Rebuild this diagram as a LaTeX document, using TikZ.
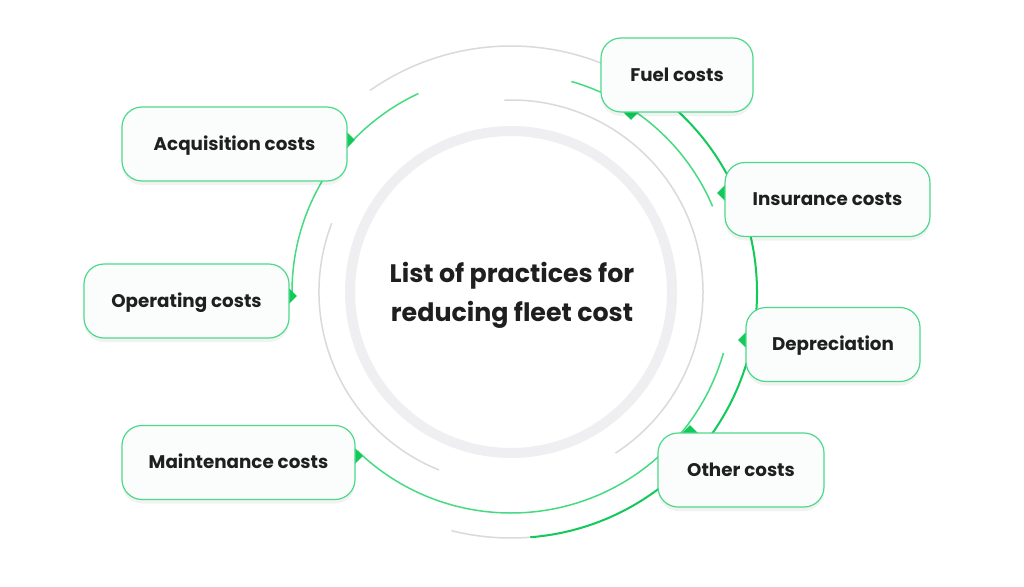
\documentclass[tikz,border=0pt]{standalone}
\usepackage{fontspec}
\setmainfont{Poppins}
\usetikzlibrary{shapes.geometric,shadows,calc}
\definecolor{boxg}{HTML}{4CD98A}
\definecolor{greenL}{HTML}{45DB82}
\definecolor{greenD}{HTML}{12C95A}
\definecolor{arcgray}{HTML}{D9D9DE}
\definecolor{ringgray}{HTML}{EFEFF2}
\definecolor{boxfill}{HTML}{FBFCFC}
\definecolor{txt}{HTML}{1F1F1F}
\begin{document}
\begin{tikzpicture}[x=1pt,y=1pt,
  box/.style={draw=boxg, line width=1.2pt, fill=boxfill, rounded corners=20pt,
    minimum height=74pt, inner sep=0pt, text=txt, text height=12.8pt, text depth=0pt,
    font=\fontsize{18.3}{20}\selectfont\bfseries,
    drop shadow={shadow xshift=0pt, shadow yshift=-4pt, opacity=0.05, fill=black}},
  diam/.style={diamond, fill=greenD, minimum size=16pt, inner sep=0pt},
  garc/.style={draw=arcgray, line width=1.5pt},
  larc/.style={draw=greenL, line width=1.5pt},
  darc/.style={draw=greenD, line width=2pt}]
\useasboundingbox (0,0) rectangle (1024,-586);
\fill[white] (0,0) rectangle (1024,-586);
\coordinate (C) at (511,-292);
% gray arcs
\draw[garc] ($(C)+(125:246)$) arc[start angle=125, end angle=66, radius=246];
\draw[garc] ($(C)+(92:192)$) arc[start angle=92, end angle=-57, radius=192];
\draw[garc] ($(C)+(159:192)$) arc[start angle=159, end angle=248, radius=192];
\draw[garc] ($(C)+(256:246)$) arc[start angle=256, end angle=274.5, radius=246];
% green arcs
\draw[darc] ($(C)+(274.5:246)$) arc[start angle=274.5, end angle=410, radius=246];
\draw[larc] ($(C)+(115:219)$) arc[start angle=115, end angle=181, radius=219];
\draw[larc] ($(C)+(74:219)$) arc[start angle=74, end angle=23, radius=219];
\draw[larc] ($(C)+(226:221)$) arc[start angle=226, end angle=344, radius=221];
% center ring
\draw[ringgray, line width=10pt] (C) circle[radius=161];
\node[align=center, text=txt, font=\fontsize{25.3}{39}\selectfont\bfseries] (title) at (512,-295) {List of practices for\\reducing fleet cost};
% diamonds
\node[diam] (dA) at (347,-140) {};
\node[diam] (dF) at (631,-112) {};
\node[diam] (dI) at (725,-193) {};
\node[diam] (dO) at (289,-296) {};
\node[diam] (dD) at (746,-340) {};
\node[diam] (dT) at (690,-433) {};
\node[diam] (dM) at (355,-456) {};
% boxes
\node[box, minimum width=225pt] (acq) at (234.5,-144) {Acquisition costs};
\node[box, minimum width=152pt] (fuel) at (677,-75) {Fuel costs};
\node[box, minimum width=205pt] (ins) at (827.5,-199.5) {Insurance costs};
\node[box, minimum width=205pt] (op) at (186.5,-301) {Operating costs};
\node[box, minimum width=174pt] (dep) at (833,-344.5) {Depreciation};
\node[box, minimum width=166pt] (oth) at (741,-470) {Other costs};
\node[box, minimum width=233pt] (mnt) at (238.5,-462.5) {Maintenance costs};
\end{tikzpicture}
\end{document}
